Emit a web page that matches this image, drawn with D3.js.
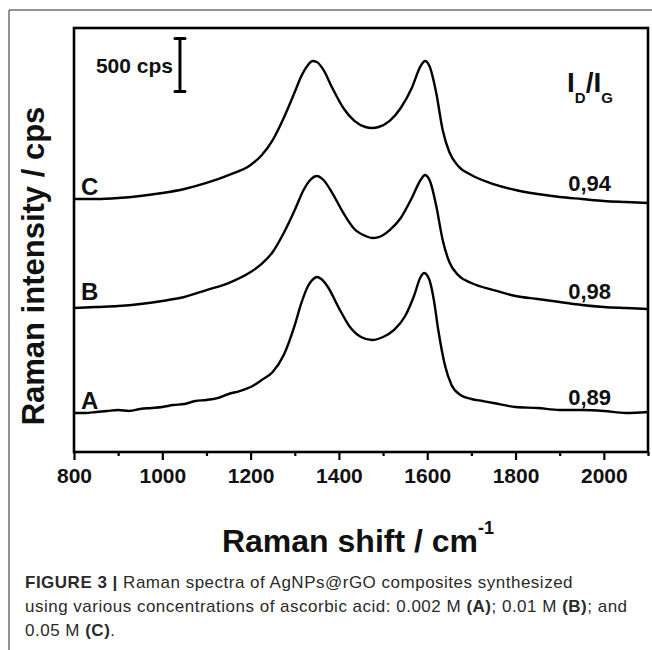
<!DOCTYPE html>
<html>
<head>
<meta charset="utf-8">
<script src="https://cdn.jsdelivr.net/npm/d3@7/dist/d3.min.js"></script>
<style>
  html, body { margin: 0; padding: 0; background: #fff; }
  svg { display: block; }
</style>
</head>
<body>
<svg id="chart" width="652" height="650"></svg>
<script>
// ---------- DATA ----------
const xTicksMajor = [800, 1000, 1200, 1400, 1600, 1800, 2000];
const xTicksMinor = [900, 1100, 1300, 1500, 1700, 1900, 2100];

const shiftA = [800, 825, 850, 875, 900, 925, 950, 975, 1000, 1025, 1050, 1075, 1100, 1125, 1150, 1175, 1200, 1225, 1250, 1275, 1300, 1315, 1330, 1340, 1350, 1360, 1375, 1400, 1425, 1450, 1475, 1500, 1525, 1550, 1570, 1585, 1593, 1605, 1615, 1625, 1640, 1655, 1675, 1700, 1725, 1750, 1800, 1850, 1900, 1950, 2000, 2050, 2100];
const intensityA = [368, 368, 377, 387, 396, 387, 406, 415, 425, 443, 453, 481, 491, 509, 547, 575, 613, 679, 755, 915, 1198, 1406, 1566, 1623, 1651, 1632, 1557, 1358, 1179, 1085, 1057, 1085, 1151, 1283, 1472, 1651, 1689, 1623, 1434, 1151, 821, 632, 538, 500, 481, 462, 425, 415, 396, 396, 387, 368, 377];

const shiftB = [800, 850, 900, 950, 1000, 1050, 1100, 1150, 1200, 1225, 1250, 1275, 1300, 1320, 1335, 1350, 1365, 1385, 1410, 1435, 1460, 1475, 1490, 1515, 1540, 1565, 1585, 1595, 1607, 1620, 1635, 1650, 1670, 1700, 1750, 1800, 1850, 1900, 1950, 2000, 2050, 2100];
const intensityB = [1358, 1368, 1377, 1396, 1425, 1462, 1528, 1594, 1698, 1774, 1887, 2066, 2283, 2472, 2566, 2604, 2566, 2443, 2255, 2104, 2038, 2019, 2028, 2094, 2208, 2396, 2566, 2613, 2547, 2330, 2000, 1792, 1670, 1594, 1528, 1472, 1443, 1415, 1387, 1368, 1358, 1349];

const shiftC = [800, 850, 900, 950, 1000, 1050, 1100, 1150, 1200, 1225, 1250, 1275, 1300, 1315, 1330, 1340, 1350, 1365, 1385, 1410, 1435, 1460, 1475, 1490, 1515, 1540, 1565, 1585, 1595, 1605, 1620, 1635, 1650, 1670, 1700, 1750, 1800, 1850, 1900, 1950, 2000, 2050, 2100];
const intensityC = [2387, 2387, 2396, 2415, 2443, 2481, 2538, 2613, 2708, 2800, 2943, 3151, 3396, 3547, 3651, 3689, 3679, 3604, 3434, 3245, 3123, 3066, 3057, 3066, 3123, 3245, 3434, 3641, 3689, 3641, 3396, 3038, 2830, 2698, 2613, 2528, 2472, 2434, 2406, 2387, 2368, 2358, 2349];

const seriesNames = ["A", "B", "C"];
const ratioLabels = ["0,89", "0,98", "0,94"];
const scaleBarCps = 500;

// ---------- LAYOUT ----------
const svg = d3.select("#chart");
const m = { left: 74, right: 648, top: 28, bottom: 452 };
const x = d3.scaleLinear().domain([800, 2100]).range([m.left, m.right]);
const y = d3.scaleLinear().domain([0, 4000]).range([m.bottom, m.top]);
const FONT = "'Liberation Sans', Arial, Helvetica, sans-serif";

// figure border (grey)
svg.append("line").attr("x1", 9).attr("x2", 652).attr("y1", 10).attr("y2", 10)
  .attr("stroke", "#6e6e6e").attr("stroke-width", 1.5);
svg.append("line").attr("x1", 9).attr("x2", 9).attr("y1", 10).attr("y2", 650)
  .attr("stroke", "#6e6e6e").attr("stroke-width", 1.5);

// x axis ticks
const gx = svg.append("g").attr("transform", `translate(0,${m.bottom})`);
gx.call(d3.axisBottom(x).tickValues(xTicksMajor).tickSize(8).tickPadding(8).tickFormat(d3.format("d")));
gx.select(".domain").remove();
gx.selectAll(".tick line").attr("stroke", "#000").attr("stroke-width", 2.2);
gx.selectAll(".tick text").attr("font-family", FONT).attr("font-weight", "bold")
  .attr("font-size", 21).attr("fill", "#111");
const gxm = svg.append("g").attr("transform", `translate(0,${m.bottom})`);
gxm.call(d3.axisBottom(x).tickValues(xTicksMinor).tickSize(4).tickFormat(""));
gxm.select(".domain").remove();
gxm.selectAll(".tick line").attr("stroke", "#000").attr("stroke-width", 2.2);

// frame
svg.append("rect").attr("x", m.left).attr("y", m.top)
  .attr("width", m.right - m.left).attr("height", m.bottom - m.top)
  .attr("fill", "none").attr("stroke", "#000").attr("stroke-width", 2.6);

// curves
const line = d3.line().x(d => x(d[0])).y(d => y(d[1])).curve(d3.curveMonotoneX);
const series = [
  d3.zip(shiftA, intensityA),
  d3.zip(shiftB, intensityB),
  d3.zip(shiftC, intensityC)
];
svg.append("g").selectAll("path").data(series).join("path")
  .attr("d", line).attr("fill", "none").attr("stroke", "#000")
  .attr("stroke-width", 2.4).attr("stroke-linejoin", "round");

// series letters
const letterY = [409, 300, 195];
svg.append("g").selectAll("text").data(seriesNames).join("text")
  .attr("x", 81).attr("y", (d, i) => letterY[i])
  .attr("font-family", FONT).attr("font-weight", "bold").attr("font-size", 24)
  .attr("fill", "#111").text(d => d);

// ratio values
const ratioY = [405, 299, 191];
svg.append("g").selectAll("text").data(ratioLabels).join("text")
  .attr("x", 611).attr("y", (d, i) => ratioY[i]).attr("text-anchor", "end")
  .attr("font-family", FONT).attr("font-weight", "bold").attr("font-size", 22)
  .attr("fill", "#111").text(d => d);

// I_D/I_G
const idig = svg.append("text").attr("x", 567).attr("y", 92)
  .attr("font-family", FONT).attr("font-weight", "bold").attr("font-size", 28).attr("fill", "#111");
idig.append("tspan").text("I");
idig.append("tspan").attr("font-size", 15).attr("dy", 11).text("D");
idig.append("tspan").attr("dy", -11).text("/I");
idig.append("tspan").attr("font-size", 15).attr("dy", 11).text("G");

// scale bar
const sbX = x(1040);
const sbTop = y(3400 + scaleBarCps), sbBot = y(3400);
const sb = svg.append("g").attr("stroke", "#000").attr("stroke-width", 3).attr("stroke-linecap", "round");
sb.append("line").attr("x1", sbX).attr("x2", sbX).attr("y1", sbTop).attr("y2", sbBot);
sb.append("line").attr("x1", sbX - 5).attr("x2", sbX + 5).attr("y1", sbTop).attr("y2", sbTop);
sb.append("line").attr("x1", sbX - 5).attr("x2", sbX + 5).attr("y1", sbBot).attr("y2", sbBot);
svg.append("text").attr("x", sbX - 7).attr("y", 73).attr("text-anchor", "end")
  .attr("font-family", FONT).attr("font-weight", "bold").attr("font-size", 21)
  .attr("fill", "#111").text(scaleBarCps + " cps");

// axis titles
const xt = svg.append("text").attr("x", 358).attr("y", 552).attr("text-anchor", "middle")
  .attr("font-family", FONT).attr("font-weight", "bold").attr("font-size", 32).attr("fill", "#111");
xt.append("tspan").text("Raman shift / cm");
xt.append("tspan").attr("font-size", 18).attr("dy", -18).text("-1");

svg.append("text").attr("transform", "translate(44,266) rotate(-90)").attr("text-anchor", "middle")
  .attr("font-family", FONT).attr("font-weight", "bold").attr("font-size", 31).attr("fill", "#111")
  .text("Raman intensity / cps");

// caption
const cap = svg.append("g").attr("font-family", FONT).attr("font-size", 17)
  .attr("letter-spacing", 0.5).attr("fill", "#2a2a2a");
const l1 = cap.append("text").attr("x", 25).attr("y", 588);
l1.append("tspan").attr("font-weight", "bold").text("FIGURE 3 | ");
l1.append("tspan").text("Raman spectra of AgNPs@rGO composites synthesized");
const l2 = cap.append("text").attr("x", 25).attr("y", 612);
l2.append("tspan").text("using various concentrations of ascorbic acid: 0.002 M ");
l2.append("tspan").attr("font-weight", "bold").text("(A)");
l2.append("tspan").text("; 0.01 M ");
l2.append("tspan").attr("font-weight", "bold").text("(B)");
l2.append("tspan").text("; and");
const l3 = cap.append("text").attr("x", 25).attr("y", 636);
l3.append("tspan").text("0.05 M ");
l3.append("tspan").attr("font-weight", "bold").text("(C)");
l3.append("tspan").text(".");
</script>
</body>
</html>
